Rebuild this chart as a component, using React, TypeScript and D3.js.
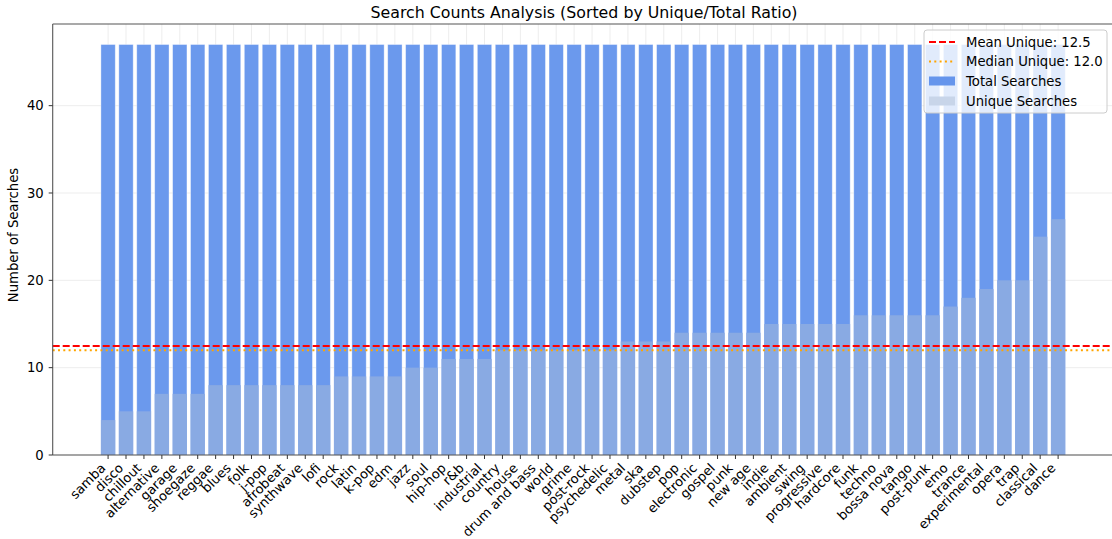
import React, { useEffect } from "react";
import * as d3 from "d3";

const categories = ["samba","disco","chillout","alternative","garage","shoegaze","reggae","blues","folk","j-pop","afrobeat","synthwave","lofi","rock","latin","k-pop","edm","jazz","soul","hip-hop","r&b","industrial","country","house","drum and bass","world","grime","post-rock","psychedelic","metal","ska","dubstep","pop","electronic","gospel","punk","new age","indie","ambient","swing","progressive","hardcore","funk","techno","bossa nova","tango","post-punk","emo","trance","experimental","opera","trap","classical","dance"];
const totalSearches = categories.map(() => 47);
const uniqueSearches = [4,5,5,7,7,7,8,8,8,8,8,8,8,9,9,9,9,10,10,11,11,11,12,12,12,12,12,12,12,13,13,13,14,14,14,14,14,15,15,15,15,15,16,16,16,16,16,17,18,19,20,20,25,27];
const yTicks = [0, 10, 20, 30, 40];

const W = 1112, H = 539;
const L = 52.7, R = 1113.5, T = 24, B = 455;
const FONT = "DejaVu Sans, sans-serif";

export default function App() {
  useEffect(() => { document.body.style.margin = "0"; }, []);
  const n = categories.length;
  const x = d3.scaleLinear().domain([-0.4 - 0.05 * (n - 0.2), n - 0.6 + 0.05 * (n - 0.2)]).range([L, R]);
  const yMax = 47 * 1.05;
  const y = d3.scaleLinear().domain([0, yMax]).range([B, T]);
  const bw = x(0.8) - x(0);
  const mean = d3.mean(uniqueSearches) as number;
  const median = d3.median(uniqueSearches) as number;
  const grid = "#e8e8e8";
  const spine = "#555";
  const totalColor = "#6595EC";
  const uniqueColor = "#8AAAE2";
  const fs = 13.2;
  const xfs = 13;
  const off = 0.707 * xfs;
  return (
    <svg width={W} height={H} style={{ display: "block" }} fontFamily={FONT}>
      <rect width={W} height={H} fill="#fff" />
      {/* grid */}
      {yTicks.map((t) => (
        <line key={"gy" + t} x1={L} x2={R} y1={y(t)} y2={y(t)} stroke={grid} strokeWidth={0.8} />
      ))}
      {categories.map((c, i) => (
        <line key={"gx" + c} x1={x(i)} x2={x(i)} y1={T} y2={B} stroke={grid} strokeWidth={0.8} />
      ))}
      {/* total bars */}
      {categories.map((c, i) => (
        <rect key={"t" + c} x={x(i) - bw / 2} y={y(totalSearches[i])} width={bw} height={B - y(totalSearches[i])}
          fill={totalColor} fillOpacity={0.96} stroke="#fff" strokeOpacity={0.45} strokeWidth={0.8} />
      ))}
      {categories.map((c, i) => (
        <rect key={"u" + c} x={x(i) - bw / 2} y={y(uniqueSearches[i])} width={bw} height={B - y(uniqueSearches[i])}
          fill={uniqueColor} fillOpacity={0.97} />
      ))}
      {/* mean/median */}
      <line x1={L} x2={R} y1={y(mean)} y2={y(mean)} stroke="#ff0000" strokeWidth={2} strokeDasharray="7,3" />
      <line x1={L} x2={R} y1={y(median)} y2={y(median)} stroke="#ffa500" strokeWidth={2} strokeDasharray="2,3.3" />
      {/* spines */}
      <line x1={L} x2={L} y1={T} y2={B} stroke={spine} strokeWidth={1.1} />
      <line x1={L} x2={R} y1={T} y2={T} stroke={spine} strokeWidth={1.1} />
      <line x1={L} x2={R} y1={B} y2={B} stroke={spine} strokeWidth={1.1} />
      {/* y ticks */}
      {yTicks.map((t) => (
        <g key={"yt" + t}>
          <line x1={L - 4} x2={L} y1={y(t)} y2={y(t)} stroke="#333" />
          <text x={L - 9} y={y(t)} dy="0.36em" textAnchor="end" fontSize={fs} fill="#000">{t}</text>
        </g>
      ))}
      {/* x ticks */}
      {categories.map((c, i) => (
        <g key={"xt" + c}>
          <line x1={x(i)} x2={x(i)} y1={B} y2={B + 4} stroke="#333" />
          <text transform={`translate(${x(i) - off + 0.5},${B + 7}) rotate(-45)`} textAnchor="end" dy="0.75em" fontSize={xfs} fill="#000">{c}</text>
        </g>
      ))}
      <text x={584} y={17.5} textAnchor="middle" fontSize={15.8} fill="#000">Search Counts Analysis (Sorted by Unique/Total Ratio)</text>
      <text transform={`translate(17.5,235) rotate(-90)`} textAnchor="middle" fontSize={fs} fill="#000">Number of Searches</text>
      {/* legend */}
      <g>
        <rect x={924} y={30} width={183} height={83} rx={3} fill="#fff" fillOpacity={0.8} stroke="#cccccc" strokeWidth={1} />
        <line x1={929} x2={955} y1={42} y2={42} stroke="#ff0000" strokeWidth={2} strokeDasharray="7,3" />
        <text x={966} y={42} dy="0.36em" fontSize={fs}>Mean Unique: {mean.toFixed(1)}</text>
        <line x1={929} x2={955} y1={61.5} y2={61.5} stroke="#ffa500" strokeWidth={2} strokeDasharray="2,3.3" />
        <text x={966} y={61.5} dy="0.36em" fontSize={fs}>Median Unique: {median.toFixed(1)}</text>
        <rect x={929} y={76.5} width={26} height={9} fill={totalColor} />
        <text x={966} y={81} dy="0.36em" fontSize={fs}>Total Searches</text>
        <rect x={929} y={96.5} width={26} height={9} fill="#C8D5E9" />
        <text x={966} y={101} dy="0.36em" fontSize={fs}>Unique Searches</text>
      </g>
    </svg>
  );
}
